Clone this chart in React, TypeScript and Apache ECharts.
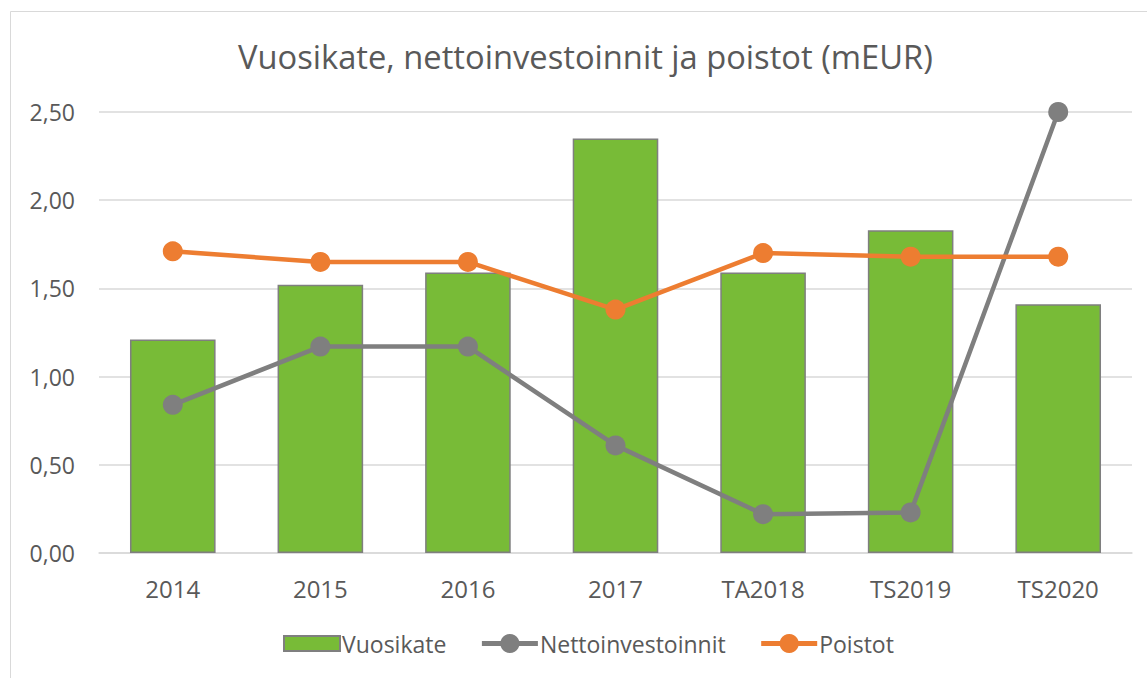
import React, { useEffect, useRef } from "react";
import * as echarts from "echarts";

const categories = ["2014", "2015", "2016", "2017", "TA2018", "TS2019", "TS2020"];
const vuosikate = [1.21, 1.52, 1.59, 2.35, 1.59, 1.83, 1.41];
const nettoinvestoinnit = [0.84, 1.17, 1.17, 0.61, 0.22, 0.23, 2.5];
const poistot = [1.71, 1.65, 1.65, 1.38, 1.7, 1.68, 1.68];

const FONT = "'Open Sans', 'Noto Sans', sans-serif";
const TXT = "#595959";

export default function App() {
  const ref = useRef<HTMLDivElement>(null);
  useEffect(() => {
    const chart = echarts.init(ref.current!, null, { renderer: "svg" });
    chart.setOption({
      animation: false,
      backgroundColor: "#ffffff",
      graphic: [
        {
          type: "rect",
          shape: { x: 10.5, y: 11.5, width: 1200, height: 800 },
          style: { fill: "none", stroke: "#d9d9d9", lineWidth: 1 },
          silent: true,
        },
      ],
      title: {
        text: "Vuosikate, nettoinvestoinnit ja poistot (mEUR)",
        left: 233,
        top: 35,
        textStyle: { fontFamily: FONT, fontSize: 32.7, fontWeight: "normal", color: TXT },
      },
      legend: {
        bottom: 18,
        left: 278,
        itemWidth: 56,
        itemHeight: 24,
        itemGap: 33,
        lineStyle: { width: 5 },
        textStyle: { fontFamily: FONT, fontSize: 23, color: TXT, padding: [0, 0, 0, -3] },
        data: [
          { name: "Vuosikate", icon: "path://M0,0H52V14H0Z" },
          { name: "Nettoinvestoinnit" },
          { name: "Poistot" },
        ],
      },
      grid: { left: 99, right: 15, top: 112, bottom: 125 },
      xAxis: {
        type: "category",
        data: categories,
        axisLine: { lineStyle: { color: "#d9d9d9", width: 1.5 } },
        axisTick: { show: false },
        axisLabel: { fontFamily: FONT, fontSize: 24, color: TXT, margin: 23 },
      },
      yAxis: {
        type: "value",
        min: 0,
        max: 2.5,
        interval: 0.5,
        axisLine: { show: false },
        axisTick: { show: false },
        splitLine: { lineStyle: { color: "#d9d9d9", width: 1.5 } },
        axisLabel: {
          fontFamily: FONT,
          fontSize: 23,
          color: TXT,
          margin: 24,
          formatter: (v: number) => v.toFixed(2).replace(".", ","),
        },
      },
      series: [
        {
          name: "Vuosikate",
          type: "bar",
          data: vuosikate,
          barWidth: "58%",
          itemStyle: { color: "#78bb37", borderColor: "#7f7f7f", borderWidth: 1.5 },
        },
        {
          name: "Nettoinvestoinnit",
          type: "line",
          data: nettoinvestoinnit,
          symbol: "circle",
          symbolSize: 20,
          lineStyle: { color: "#7f7f7f", width: 4.5 },
          itemStyle: { color: "#7f7f7f" },
        },
        {
          name: "Poistot",
          type: "line",
          data: poistot,
          symbol: "circle",
          symbolSize: 20,
          lineStyle: { color: "#ed7d31", width: 4.5 },
          itemStyle: { color: "#ed7d31" },
        },
      ],
    });
    return () => chart.dispose();
  }, []);
  return (
    <div
      ref={ref}
      style={{ position: "fixed", left: 0, top: 0, width: 1147, height: 678 }}
    />
  );
}
